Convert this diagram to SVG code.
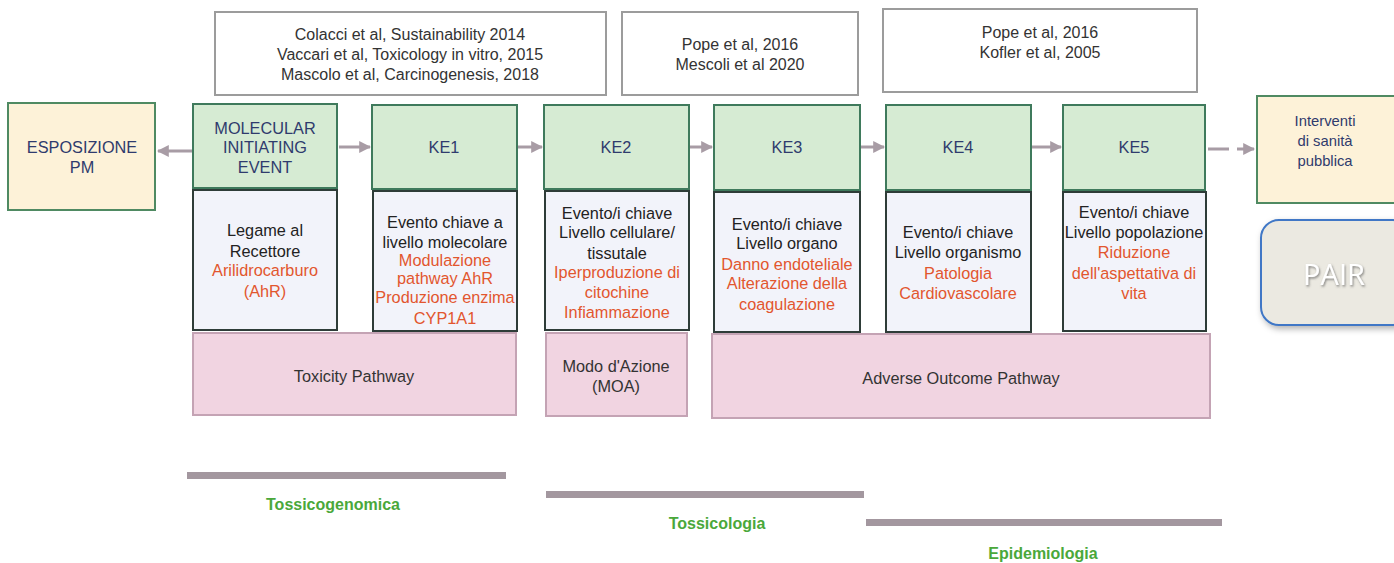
<svg xmlns="http://www.w3.org/2000/svg" width="1394" height="563" viewBox="0 0 1394 563">
  <style>
    text { font-family: "Liberation Sans", Arial, sans-serif; text-anchor: middle; }
    .ref rect { fill: #ffffff; stroke: #9c9c9c; stroke-width: 2; }
    .ref text { font-size: 16px; fill: #333333; }
    .ke rect { fill: #d6ebd3; stroke: #3f7a5c; stroke-width: 2; }
    .ke text { font-size: 16.3px; fill: #2f3b6d; }
    .side rect { fill: #fdf2d8; stroke: #4f8a62; stroke-width: 2; }
    .side text { font-size: 16.3px; fill: #2f3b6d; }
    .side text.small { font-size: 14.8px; }
    .desc rect { fill: #f2f3fa; stroke: #2e3c38; stroke-width: 2; }
    .desc text { font-size: 16.3px; fill: #222222; }
    .desc text .hl { fill: #e2562e; }
    .band rect { fill: #f1d4e1; stroke: #c4a3b4; stroke-width: 2; }
    .band text { font-size: 16.3px; fill: #333333; }
    .disc rect { fill: #a3979f; }
    .disc text { font-size: 16px; font-weight: bold; fill: #4aa83a; }
    .conn line { stroke: #a89ca5; stroke-width: 3; }
  </style>
  <defs>
    <marker id="head" viewBox="0 0 10 10" refX="9" refY="5" markerWidth="4" markerHeight="4" orient="auto" markerUnits="strokeWidth">
      <path d="M0,0 L10,5 L0,10 z" fill="#a89ca5"/>
    </marker>
    <filter id="shadow" x="-10%" y="-10%" width="130%" height="130%">
      <feDropShadow dx="2" dy="3" stdDeviation="3" flood-color="#000000" flood-opacity="0.3"/>
    </filter>
    <filter id="textShadow" x="-10%" y="-10%" width="130%" height="130%">
      <feDropShadow dx="1" dy="1.5" stdDeviation="1" flood-color="#555555" flood-opacity="0.7"/>
    </filter>
  </defs>

  <!-- reference boxes -->
  <g id="ref1" class="ref">
    <rect x="215" y="12" width="391" height="83"/>
    <text x="410" y="40">Colacci et al, Sustainability 2014</text>
    <text x="410" y="60">Vaccari et al, Toxicology in vitro, 2015</text>
    <text x="410" y="80">Mascolo et al, Carcinogenesis, 2018</text>
  </g>
  <g id="ref2" class="ref">
    <rect x="622" y="12" width="236" height="83"/>
    <text x="740" y="50">Pope et al, 2016</text>
    <text x="740" y="70">Mescoli et al 2020</text>
  </g>
  <g id="ref3" class="ref">
    <rect x="883" y="9" width="314" height="83"/>
    <text x="1040" y="38">Pope et al, 2016</text>
    <text x="1040" y="58">Kofler et al, 2005</text>
  </g>

  <!-- connectors -->
  <g id="connectors" class="conn">
    <line x1="192" y1="151" x2="158" y2="151" marker-end="url(#head)"/>
    <line x1="339" y1="147" x2="370" y2="147" marker-end="url(#head)"/>
    <line x1="518" y1="147" x2="542" y2="147" marker-end="url(#head)"/>
    <line x1="690" y1="147" x2="712" y2="147" marker-end="url(#head)"/>
    <line x1="861" y1="147" x2="884" y2="147" marker-end="url(#head)"/>
    <line x1="1032" y1="147" x2="1061" y2="147" marker-end="url(#head)"/>
    <line x1="1208" y1="149" x2="1254" y2="149" stroke-dasharray="21 8" marker-end="url(#head)"/>
  </g>

  <!-- exposure and outcome -->
  <g id="esposizione" class="side">
    <rect x="8" y="103" width="147" height="107"/>
    <text x="82" y="153">ESPOSIZIONE</text>
    <text x="82" y="173">PM</text>
  </g>
  <g id="interventi" class="side">
    <rect x="1257" y="96" width="140" height="107"/>
    <text class="small" x="1325" y="126">Interventi</text>
    <text class="small" x="1325" y="146">di sanità</text>
    <text class="small" x="1325" y="166">pubblica</text>
  </g>

  <!-- key events -->
  <g id="mie" class="ke">
    <rect x="193" y="104" width="144" height="84"/>
    <text x="265" y="134">MOLECULAR</text>
    <text x="265" y="153">INITIATING</text>
    <text x="265" y="173">EVENT</text>
  </g>
  <g id="ke1" class="ke">
    <rect x="372" y="105" width="145" height="84"/>
    <text x="444" y="153">KE1</text>
  </g>
  <g id="ke2" class="ke">
    <rect x="544" y="105" width="145" height="84"/>
    <text x="616" y="153">KE2</text>
  </g>
  <g id="ke3" class="ke">
    <rect x="714" y="105" width="146" height="85"/>
    <text x="787" y="153">KE3</text>
  </g>
  <g id="ke4" class="ke">
    <rect x="886" y="105" width="145" height="85"/>
    <text x="958" y="153">KE4</text>
  </g>
  <g id="ke5" class="ke">
    <rect x="1063" y="105" width="142" height="85"/>
    <text x="1134" y="153">KE5</text>
  </g>

  <!-- key event descriptions -->
  <g id="mie-desc" class="desc">
    <rect x="193" y="190" width="144" height="140"/>
    <text x="265" y="236">Legame al</text>
    <text x="265" y="257">Recettore</text>
    <text x="265" y="276"><tspan class="hl">Arilidrocarburo</tspan></text>
    <text x="265" y="297"><tspan class="hl">(AhR)</tspan></text>
  </g>
  <g id="ke1-desc" class="desc">
    <rect x="373" y="191" width="144" height="140"/>
    <text x="445" y="228">Evento chiave a</text>
    <text x="445" y="248">livello molecolare</text>
    <text x="445" y="266"><tspan class="hl">Modulazione</tspan></text>
    <text x="445" y="284"><tspan class="hl">pathway AhR</tspan></text>
    <text x="445" y="303"><tspan class="hl">Produzione enzima</tspan></text>
    <text x="445" y="324"><tspan class="hl">CYP1A1</tspan></text>
  </g>
  <g id="ke2-desc" class="desc">
    <rect x="545" y="191" width="144" height="139"/>
    <text x="617" y="219">Evento/i chiave</text>
    <text x="617" y="238">Livello cellulare/</text>
    <text x="617" y="259">tissutale</text>
    <text x="617" y="278"><tspan class="hl">Iperproduzione di</tspan></text>
    <text x="617" y="298"><tspan class="hl">citochine</tspan></text>
    <text x="617" y="318"><tspan class="hl">Infiammazione</tspan></text>
  </g>
  <g id="ke3-desc" class="desc">
    <rect x="714" y="192" width="146" height="140"/>
    <text x="787" y="230">Evento/i chiave</text>
    <text x="787" y="249">Livello organo</text>
    <text x="787" y="270"><tspan class="hl">Danno endoteliale</tspan></text>
    <text x="787" y="289"><tspan class="hl">Alterazione della</tspan></text>
    <text x="787" y="310"><tspan class="hl">coagulazione</tspan></text>
  </g>
  <g id="ke4-desc" class="desc">
    <rect x="886" y="192" width="145" height="140"/>
    <text x="958" y="238">Evento/i chiave</text>
    <text x="958" y="258">Livello organismo</text>
    <text x="958" y="279"><tspan class="hl">Patologia</tspan></text>
    <text x="958" y="299"><tspan class="hl">Cardiovascolare</tspan></text>
  </g>
  <g id="ke5-desc" class="desc">
    <rect x="1063" y="192" width="143" height="139"/>
    <text x="1134" y="218">Evento/i chiave</text>
    <text x="1134" y="238">Livello popolazione</text>
    <text x="1134" y="258"><tspan class="hl">Riduzione</tspan></text>
    <text x="1134" y="279"><tspan class="hl">dell'aspettativa di</tspan></text>
    <text x="1134" y="299"><tspan class="hl">vita</tspan></text>
  </g>

  <!-- pathway frameworks -->
  <g id="toxicity-pathway" class="band">
    <rect x="193" y="333" width="323" height="82"/>
    <text x="354" y="382">Toxicity Pathway</text>
  </g>
  <g id="moa" class="band">
    <rect x="546" y="333" width="141" height="83"/>
    <text x="616" y="372">Modo d'Azione</text>
    <text x="616" y="392">(MOA)</text>
  </g>
  <g id="aop" class="band">
    <rect x="712" y="334" width="498" height="84"/>
    <text x="961" y="384">Adverse Outcome Pathway</text>
  </g>

  <!-- PAIR badge -->
  <g id="pair">
    <rect x="1261" y="220" width="150" height="105" rx="18" ry="18" fill="#ebe9e1" stroke="#3f77c6" stroke-width="2" filter="url(#shadow)"/>
    <text x="1334" y="285" style="font-family:'Open Sans','Liberation Sans',sans-serif;font-size:29px;fill:#ffffff" filter="url(#textShadow)">PAIR</text>
  </g>

  <!-- disciplines -->
  <g id="tossicogenomica" class="disc">
    <rect x="187" y="472" width="319" height="7"/>
    <text x="333" y="510">Tossicogenomica</text>
  </g>
  <g id="tossicologia" class="disc">
    <rect x="546" y="491" width="318" height="7"/>
    <text x="717" y="529">Tossicologia</text>
  </g>
  <g id="epidemiologia" class="disc">
    <rect x="866" y="519" width="356" height="7"/>
    <text x="1043" y="559">Epidemiologia</text>
  </g>
</svg>
